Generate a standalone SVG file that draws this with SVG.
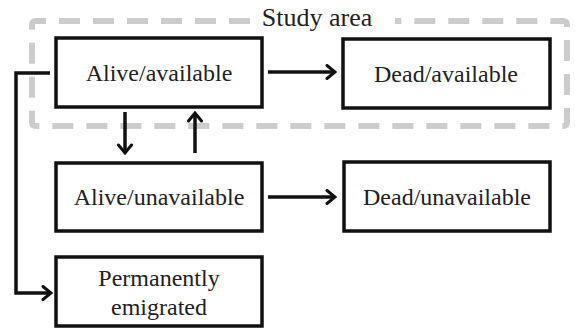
<svg xmlns="http://www.w3.org/2000/svg" width="575" height="330" viewBox="0 0 575 330">
<defs>
<marker id="ah" viewBox="0 0 12 16" refX="10" refY="8" markerWidth="12" markerHeight="16" markerUnits="userSpaceOnUse" orient="auto">
<path d="M2,1.5 L10,8 L2,14.5" fill="none" stroke="#111" stroke-width="3" stroke-linecap="round" stroke-linejoin="miter"/>
</marker>
<style>
.box{fill:#fff;stroke:#111;stroke-width:3.5}
.lbl{font-family:"Liberation Serif","Times New Roman",serif;font-size:24px;fill:#222;text-anchor:middle}
.con{fill:none;stroke:#111;stroke-width:3.5}
.area{fill:none;stroke:#cccccc;stroke-width:6;stroke-dasharray:21 13}
</style>
</defs>
<rect width="575" height="330" fill="#fff"/>
<g id="study-area">
<path class="area" d="M 250 21 H 36 Q 32 21 32 25 V 122 Q 32 126 36 126 H 563 Q 567 126 567 122 V 25 Q 567 21 563 21 H 395"/>
<text x="317" y="26" style="font-family:'Liberation Serif','Times New Roman',serif;font-size:26px;fill:#222;text-anchor:middle">Study area</text>
</g>
<g id="connectors">
<line class="con" x1="268" y1="72" x2="335" y2="72" marker-end="url(#ah)"/>
<line class="con" x1="268" y1="197" x2="335" y2="197" marker-end="url(#ah)"/>
<line class="con" x1="125" y1="112" x2="125" y2="153" marker-end="url(#ah)"/>
<line class="con" x1="195" y1="153" x2="195" y2="113" marker-end="url(#ah)"/>
<path class="con" d="M 50 73 H 16 V 293 H 51" marker-end="url(#ah)"/>
</g>
<g id="alive-available">
<rect class="box" x="56" y="38" width="206" height="69"/>
<text class="lbl" x="159" y="81">Alive/available</text>
</g>
<g id="dead-available">
<rect class="box" x="343" y="39" width="207" height="69"/>
<text class="lbl" x="446" y="82">Dead/available</text>
</g>
<g id="alive-unavailable">
<rect class="box" x="56" y="163" width="206" height="68"/>
<text class="lbl" x="159" y="205">Alive/unavailable</text>
</g>
<g id="dead-unavailable">
<rect class="box" x="344" y="162" width="206" height="69"/>
<text class="lbl" x="447" y="205">Dead/unavailable</text>
</g>
<g id="permanently-emigrated">
<rect class="box" x="56" y="257" width="206" height="69"/>
<text class="lbl" x="159" y="286">Permanently</text>
<text class="lbl" x="159" y="315">emigrated</text>
</g>
</svg>
